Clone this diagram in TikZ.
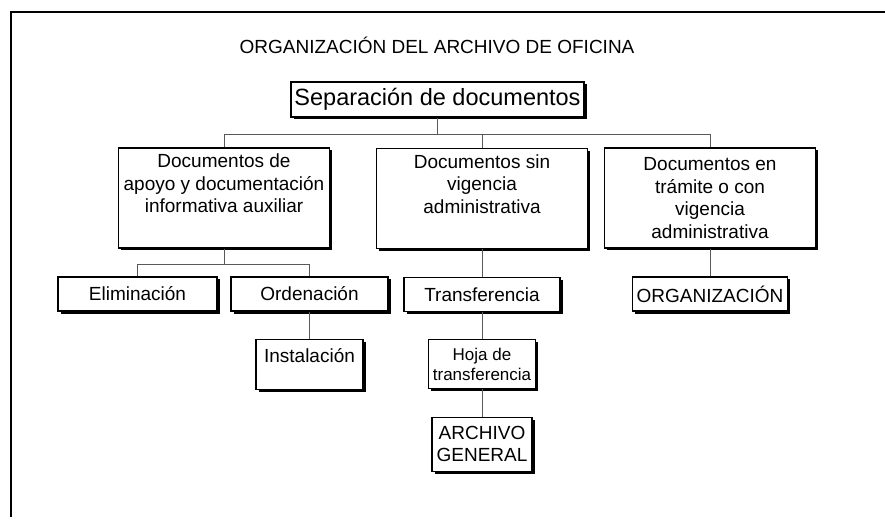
\documentclass[tikz,border=0pt]{standalone}
\usepackage{fontspec}
\setmainfont{Liberation Sans}
\usetikzlibrary{shadows,positioning}

\begin{document}
\begin{tikzpicture}[
    x=1pt, y=1pt,
    box/.style={rectangle, draw, line width=1.1pt, fill=white, align=center, inner xsep=2pt, inner ysep=3pt, font=\fontsize{19}{22.5}\selectfont, drop shadow={fill=black, opacity=1, shadow xshift=2.5pt, shadow yshift=-2.5pt}},
    small/.style={minimum height=34pt},
    big/.style={minimum width=211pt, minimum height=100pt},
    link/.style={draw=black!65, line width=1pt},
    frame/.style={line width=1.4pt}
]
\useasboundingbox (0,0) rectangle (885,-526);

% Frame (only top and left edges show)
\draw[frame] (885,-12) -- (11,-12) -- (11,-517);

% Title and root
\node[font=\fontsize{19}{22.5}\selectfont] (title) at (437,-45) {ORGANIZACIÓN DEL ARCHIVO DE OFICINA};
\node[box, font=\fontsize{23.5}{27}\selectfont, minimum width=293pt, minimum height=35pt] (root) at (437.5,-99.5) {Separación de documentos};

% First level
\node[box, big] (apoyo) at (224,-198) {Documentos de\\apoyo y documentación\\informativa auxiliar\\\strut};
\node[box, big] (vigencia) at (482,-198.5) {Documentos sin\\vigencia\\administrativa\\\strut};
\node[box, big] (tramite) at (710,-198) {Documentos en\\trámite o con\\vigencia\\administrativa};

% Second level
\node[box, small, minimum width=159pt] (elim) at (137.5,-294) {Eliminación};
\node[box, small, minimum width=157pt] (orden) at (309.5,-294) {Ordenación};
\node[box, small, minimum width=156pt] (transf) at (482,-294.5) {Transferencia};
\node[box, small, minimum width=155pt] (organiz) at (710,-294) {ORGANIZACIÓN};

% Third level
\node[box, minimum width=107pt, inner ysep=0pt, text height=23pt, text depth=27pt, below=27pt of orden] (instal) {Instalación};
\node[box, minimum width=107pt, minimum height=49pt, font=\fontsize{17}{20}\selectfont, below=27pt of transf] (hoja) {Hoja de\\transferencia};
\node[box, minimum width=100pt, minimum height=54pt, below=27.5pt of hoja] (general) {ARCHIVO\\GENERAL};

% Connectors
\coordinate (bus1) at (0,-135);
\coordinate (bus2) at (0,-265);
\draw[link] (root.south) -- (root.south |- bus1);
\draw[link] (apoyo.north) -- (apoyo.north |- bus1) -| (tramite.north);
\draw[link] (vigencia.north) -- (vigencia.north |- bus1);

\draw[link] (apoyo.south) -- (apoyo.south |- bus2);
\draw[link] (elim.north) -- (elim.north |- bus2) -| (orden.north);
\draw[link] (orden.south) -- (instal.north);
\draw[link] (vigencia.south) -- (transf.north);
\draw[link] (transf.south) -- (hoja.north);
\draw[link] (hoja.south) -- (general.north);
\draw[link] (tramite.south) -- (organiz.north);

\end{tikzpicture}
\end{document}
